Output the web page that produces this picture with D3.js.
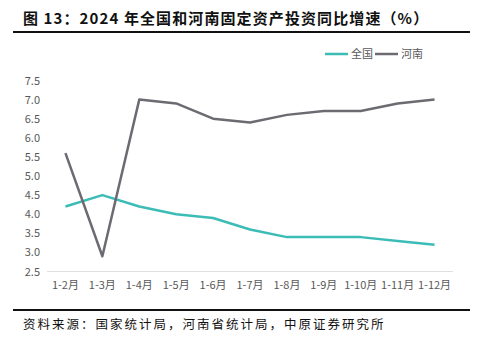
<!DOCTYPE html>
<html><head><meta charset="utf-8">
<script src="https://cdn.jsdelivr.net/npm/d3@7"></script>
<style>
html,body{margin:0;padding:0;background:#fff;}
svg{display:block;}
</style></head>
<body>
<svg id="c" width="480" height="345"></svg>
<script>
const categories = ["1-2月","1-3月","1-4月","1-5月","1-6月","1-7月","1-8月","1-9月","1-10月","1-11月","1-12月"];
const national = [4.2,4.5,4.2,4.0,3.9,3.6,3.4,3.4,3.4,3.3,3.2];
const henan = [5.6,2.9,7.0,6.9,6.5,6.4,6.6,6.7,6.7,6.9,7.0];
const yTicks = [2.5,3.0,3.5,4.0,4.5,5.0,5.5,6.0,6.5,7.0,7.5];
const seriesNames = ["全国","河南"];
const colors = ["#3cbcb6","#6d6a72"];
const title = "图 13：2024 年全国和河南固定资产投资同比增速（%）";
const source = "资料来源：国家统计局，河南省统计局，中原证券研究所";

const svg = d3.select("#c");
const font = "'Noto Sans CJK SC','Noto Sans',sans-serif";

svg.append("text").attr("x",23).attr("y",24).attr("font-family",font)
  .attr("font-size",15).attr("font-weight","bold").attr("letter-spacing",1.1).attr("fill","#111").text(title);
svg.append("line").attr("x1",13).attr("x2",470).attr("y1",32).attr("y2",32)
  .attr("stroke","#111").attr("stroke-width",2);

const x = d3.scaleBand().domain(categories).range([47,453]);
const y = d3.scaleLinear().domain([2.5,7.5]).range([271.5,80.5]);

svg.append("line").attr("x1",47).attr("x2",453).attr("y1",y(2.5)).attr("y2",y(2.5))
  .attr("stroke","#e0e0e0").attr("stroke-width",1);

const yAxis = d3.axisLeft(y).tickValues(yTicks).tickFormat(d3.format(".1f")).tickSize(0).tickPadding(0);
const gy = svg.append("g").attr("transform","translate(40,0)").call(yAxis);
gy.select(".domain").remove();
gy.selectAll("text").attr("font-family",font).attr("font-size",11).attr("fill","#595959");

const xAxis = d3.axisBottom(x).tickSize(0).tickPadding(0);
const gx = svg.append("g").attr("transform",`translate(0,${y(2.5)+10})`).call(xAxis);
gx.select(".domain").remove();
gx.selectAll("text").attr("font-family",font).attr("font-size",11).attr("fill","#595959");

const line = d3.line().x((d,i)=>x(categories[i])+x.bandwidth()/2).y(d=>y(d));
[national,henan].forEach((s,k)=>{
  svg.append("path").datum(s).attr("d",line).attr("fill","none")
    .attr("stroke",colors[k]).attr("stroke-width",2.5).attr("stroke-linejoin","round");
});

const lx = [325,375];
seriesNames.forEach((n,k)=>{
  svg.append("line").attr("x1",lx[k]).attr("x2",lx[k]+23).attr("y1",54).attr("y2",54)
    .attr("stroke",colors[k]).attr("stroke-width",2.5);
  svg.append("text").attr("x",lx[k]+26).attr("y",58).attr("font-family",font)
    .attr("font-size",11).attr("fill","#595959").text(n);
});

svg.append("line").attr("x1",13).attr("x2",470).attr("y1",310).attr("y2",310)
  .attr("stroke","#111").attr("stroke-width",2);
svg.append("text").attr("x",23).attr("y",329).attr("font-family",font)
  .attr("font-size",12.5).attr("letter-spacing",2).attr("fill","#111").text(source);
</script>
</body></html>
